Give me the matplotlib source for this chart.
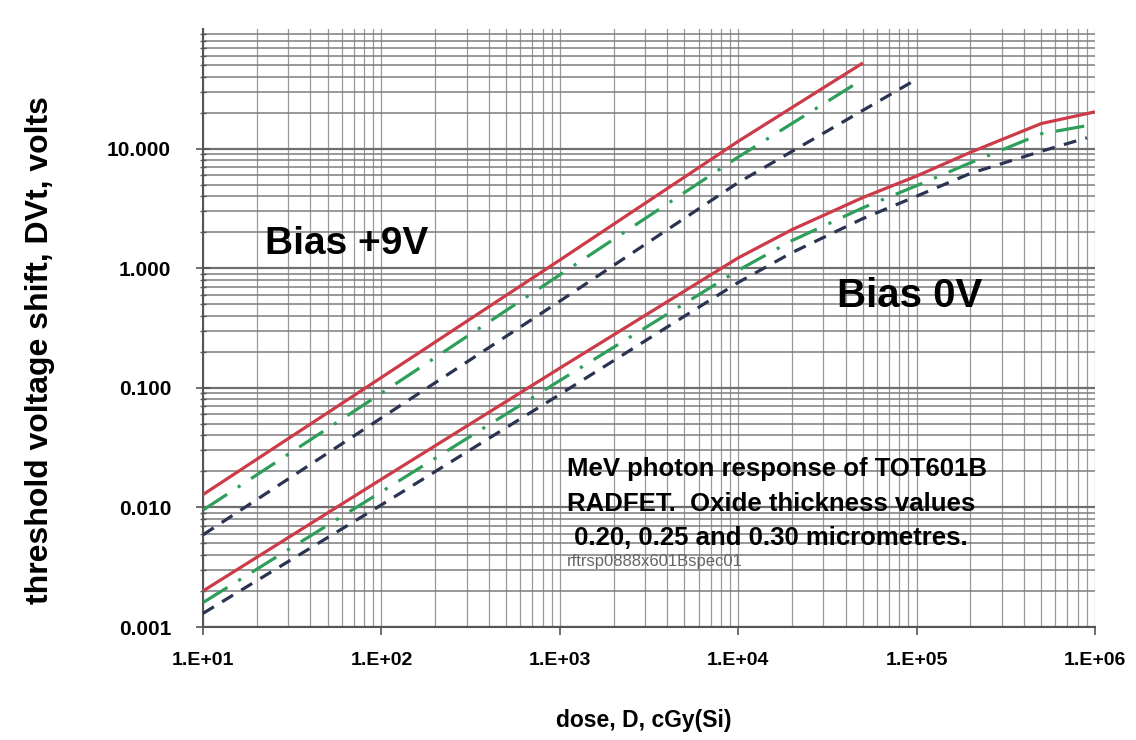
import numpy as np
import matplotlib.pyplot as plt
from matplotlib.ticker import FixedLocator, LogLocator, NullFormatter

plt.rcParams['font.family'] = ['Liberation Sans', 'DejaVu Sans']

# Bias +9V curves (oxide 0.30, 0.25, 0.20 um)
dose_9v = [10, 100, 1000, 10000, 50000]
red_9v = [0.0128, 0.122, 1.17, 11.5, 52]
green_9v = [0.0095, 0.090, 0.88, 8.5, 38]
dose_9v_dark = [10, 100, 1000, 10000, 100000]
dark_9v = [0.0059, 0.056, 0.53, 5.2, 38]

# Bias 0V curves
dose_0v = [10, 100, 1000, 10000, 20000, 50000, 100000, 200000, 500000, 1000000]
red_0v = [0.0020, 0.0172, 0.146, 1.22, 2.1, 3.9, 5.9, 9.3, 16.2, 20.3]
green_0v = [0.0016, 0.0135, 0.115, 0.96, 1.7, 3.2, 4.9, 7.6, 13.3, 16.0]
dose_0v_dark = [10, 100, 1000, 10000, 20000, 50000, 100000, 200000, 500000, 900000]
dark_0v = [0.0013, 0.0105, 0.088, 0.76, 1.35, 2.6, 4.0, 6.2, 9.5, 12.3]

x_ticks = [1e1, 1e2, 1e3, 1e4, 1e5, 1e6]
x_labels = ['1.E+01', '1.E+02', '1.E+03', '1.E+04', '1.E+05', '1.E+06']
y_ticks = [0.001, 0.01, 0.1, 1, 10]
y_labels = ['0.001', '0.010', '0.100', '1.000', '10.000']

red = '#cc3b47'
green = '#2e9e5b'
dark = '#2b3352'

fig = plt.figure(figsize=(11.36, 7.40), dpi=100)
ax = fig.add_axes([0.1787, 0.1527, 0.9639 - 0.1787, 0.9608 - 0.1527])
ax.set_xscale('log')
ax.set_yscale('log')
ax.set_xlim(10, 1e6)
ax.set_ylim(0.001, 100)

lw = 2.3
for xs, ys in [(dose_9v, red_9v), (dose_0v, red_0v)]:
    ax.plot(xs, ys, color=red, lw=lw, solid_capstyle='butt', zorder=5)
for xs, ys in [(dose_9v, green_9v), (dose_0v, green_0v)]:
    ax.plot(xs, ys, color=green, lw=lw, dashes=(9, 4, 1, 4), zorder=4)
for xs, ys in [(dose_9v_dark, dark_9v), (dose_0v_dark, dark_0v)]:
    ax.plot(xs, ys, color=dark, lw=lw, dashes=(4, 3), zorder=3)

# grid: horizontal lines a bit heavier than vertical ones
ax.xaxis.set_minor_locator(LogLocator(base=10, subs=np.arange(2, 10)))
ax.yaxis.set_minor_locator(LogLocator(base=10, subs=np.arange(2, 10)))
ax.xaxis.set_minor_formatter(NullFormatter())
ax.yaxis.set_minor_formatter(NullFormatter())
ax.grid(True, axis='y', which='major', color='#6f6f6f', lw=1.6)
ax.grid(True, axis='y', which='minor', color='#7d7d7d', lw=1.1)
ax.grid(True, axis='x', which='both', color='#999999', lw=0.9)
ax.set_axisbelow(True)

ax.xaxis.set_major_locator(FixedLocator(x_ticks))
ax.set_xticklabels(x_labels, fontsize=14, fontweight='bold')
ax.yaxis.set_major_locator(FixedLocator(y_ticks))
ax.set_yticklabels(y_labels, fontsize=15, fontweight='bold')
ax.tick_params(axis='x', which='major', length=6, width=1.2, color='#555555', pad=12, direction='out')
ax.tick_params(axis='x', which='minor', length=0)
ax.tick_params(axis='y', which='major', length=10, width=1.2, color='#555555', pad=18, direction='inout')
ax.tick_params(axis='y', which='minor', length=5, width=1.0, color='#555555', direction='inout')

for s in ['top', 'right']:
    ax.spines[s].set_visible(False)
for s in ['left', 'bottom']:
    ax.spines[s].set_color('#555555')
    ax.spines[s].set_linewidth(1.5)

fig.text(40 / 1136, 1 - 350 / 740, 'threshold voltage shift, DVt, volts', rotation=90,
         fontsize=23, fontweight='bold', ha='center', va='center')
fig.text(644 / 1136, 1 - 720 / 740, 'dose, D, cGy(Si)', fontsize=16.5,
         fontweight='bold', ha='center', va='center')

ax.text(22.3, 1.6, 'Bias +9V', fontsize=28, fontweight='bold', va='center', ha='left')
ax.text(3.6e4, 0.58, 'Bias 0V', fontsize=29, fontweight='bold', va='center', ha='left')

note = ('MeV photon response of TOT601B\n'
        'RADFET.  Oxide thickness values\n'
        ' 0.20, 0.25 and 0.30 micrometres.')
ax.text(0.408, 0.284, note, transform=ax.transAxes, fontsize=18.5, fontweight='bold',
        va='top', ha='left', linespacing=1.56)
ax.text(0.408, 0.109, 'rftrsp0888x601Bspec01', transform=ax.transAxes, fontsize=12,
        color='#666666', va='center', ha='left')

fig.savefig('out.png', dpi=100)
